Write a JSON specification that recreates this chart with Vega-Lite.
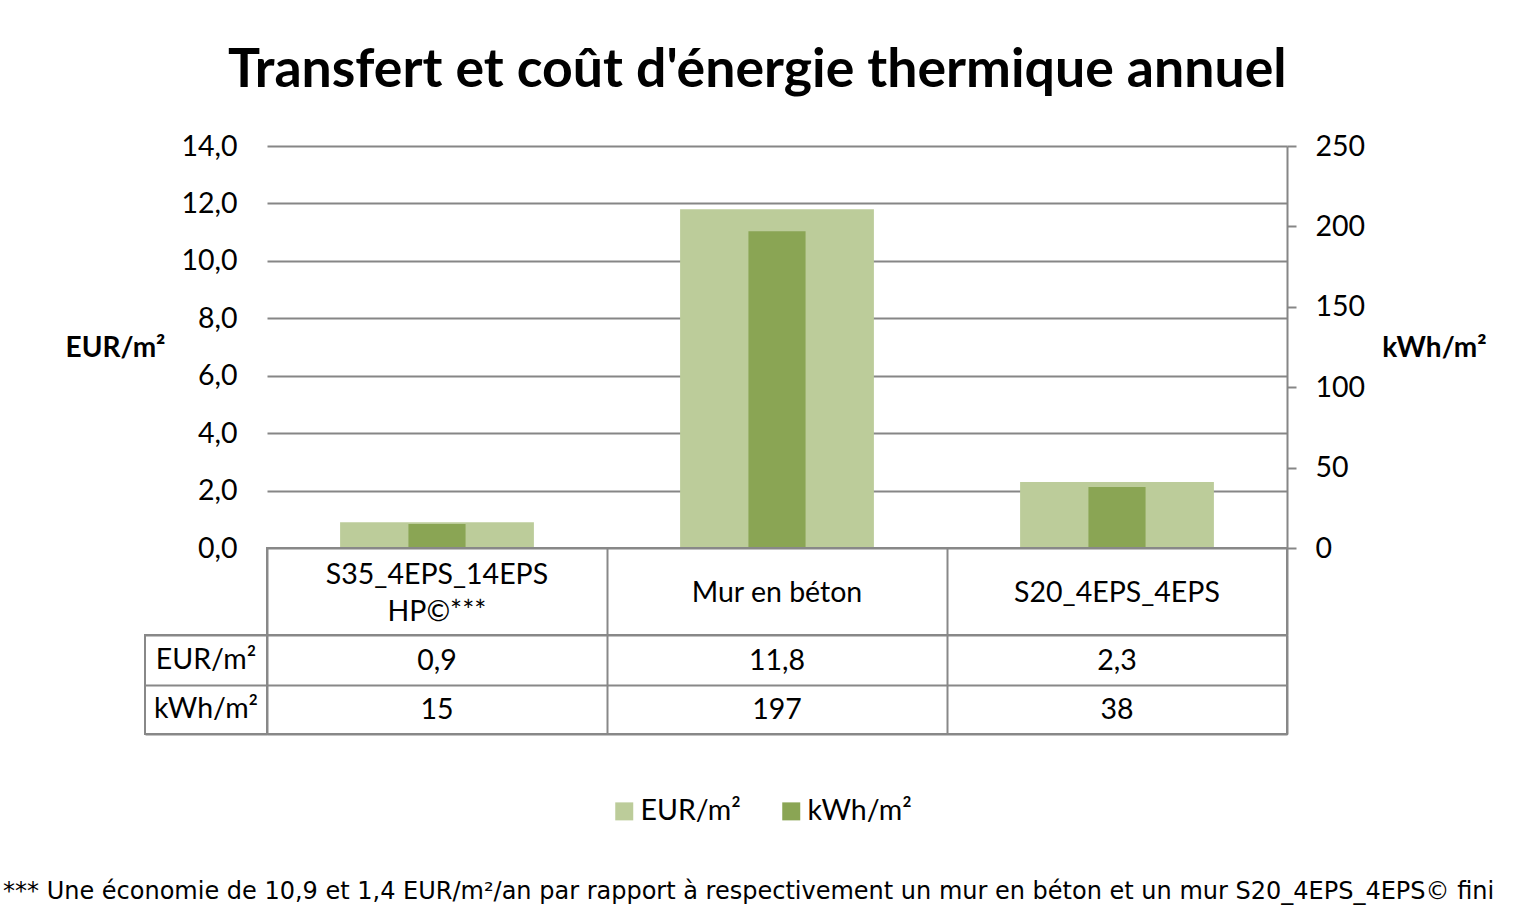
{
  "$schema": "https://vega.github.io/schema/vega-lite/v6.json",
  "autosize": {"type": "none"},
  "padding": {"left": 145, "top": 146, "right": 1371, "bottom": 768},
  "background": "white",
  "datasets": {
    "main": [
      {"cat": "S35_4EPS_14EPS\nHP©***", "eur": 0.9, "kwh": 15},
      {"cat": "Mur en béton", "eur": 11.8, "kwh": 197},
      {"cat": "S20_4EPS_4EPS", "eur": 2.3, "kwh": 38}
    ],
    "rows": [{"row": "EUR/m²"}, {"row": "kWh/m²"}]
  },
  "title": {
    "text": "Transfert et coût d'énergie thermique annuel",
    "fontSize": 53.6,
    "fontWeight": "bold",
    "font": "Lato",
    "color": "#000000",
    "anchor": "start",
    "frame": "group",
    "dx": 83,
    "offset": 33
  },
  "columns": 2,
  "spacing": 0,
  "bounds": "flush",
  "resolve": {"legend": {"color": "independent"}},
  "concat": [
    {
      "width": 122, "height": 402,
      "data": {"values": [{}]},
      "mark": {"type": "text"},
      "encoding": {},
      "view": {"stroke": null}
    },
    {
      "width": 1020, "height": 402,
      "data": {"name": "main"},
      "view": {"stroke": null},
      "layer": [
        {
          "mark": {"type": "bar", "width": {"band": 0.57}},
          "encoding": {
            "x": {"field": "cat", "type": "nominal", "sort": null, "axis": null,
                  "scale": {"paddingInner": 0, "paddingOuter": 0}},
            "y": {"field": "eur", "type": "quantitative",
                  "scale": {"domain": [0, 14], "nice": false},
                  "axis": {"orient": "left", "values": [0, 2, 4, 6, 8, 10, 12, 14], "format": ".1f",
                           "grid": true, "gridColor": "#868686", "gridWidth": 2,
                           "domain": false, "ticks": false, "tickSize": 0,
                           "labelFontSize": 28.5, "labelPadding": 30, "labelColor": "#000000",
                           "title": "EUR/m²", "titleAngle": 0, "titleFontSize": 28, "titleFontWeight": "bold",
                           "titleColor": "#000000",
                           "titleX": -152, "titleY": 202, "titleAlign": "center", "titleBaseline": "middle"}},
            "color": {"datum": "EUR/m²", "type": "nominal",
                      "scale": {"domain": ["EUR/m²", "kWh/m²"], "range": ["#bccc9a", "#8aa554"]},
                      "legend": {"orient": "none", "legendX": 343, "legendY": 651, "direction": "horizontal",
                                 "title": null, "symbolType": "square", "symbolSize": 324, "symbolStrokeWidth": 0,
                                 "labelFontSize": 28.5, "labelOffset": 2, "columnPadding": 36, "padding": 0,
                                 "labelColor": "#000000"}}
          }
        },
        {
          "mark": {"type": "bar", "width": {"band": 0.168}},
          "encoding": {
            "x": {"field": "cat", "type": "nominal", "sort": null, "axis": null,
                  "scale": {"paddingInner": 0, "paddingOuter": 0}},
            "y": {"field": "kwh", "type": "quantitative",
                  "scale": {"domain": [0, 250], "nice": false},
                  "axis": {"orient": "right", "values": [0, 50, 100, 150, 200, 250], "format": "d",
                           "grid": false, "domain": true, "domainColor": "#868686", "domainWidth": 2,
                           "ticks": true, "tickColor": "#868686", "tickWidth": 2, "tickSize": 9,
                           "labelFontSize": 28.5, "labelPadding": 19, "labelColor": "#000000",
                           "title": "kWh/m²", "titleAngle": 0, "titleFontSize": 28, "titleFontWeight": "bold",
                           "titleColor": "#000000",
                           "titleX": 147, "titleY": 202, "titleAlign": "center", "titleBaseline": "middle"}},
            "color": {"datum": "kWh/m²", "type": "nominal"}
          }
        }
      ],
      "resolve": {"scale": {"y": "independent"}}
    },
    {
      "width": 122, "height": 87,
      "data": {"values": [{}]},
      "mark": {"type": "text"},
      "encoding": {},
      "view": {"stroke": null}
    },
    {
      "width": 1020, "height": 87,
      "data": {"name": "main"},
      "view": {"stroke": "#888888", "strokeWidth": 2},
      "encoding": {
        "x": {"field": "cat", "type": "nominal", "sort": null,
              "scale": {"domain": ["S35_4EPS_14EPS\nHP©***", "Mur en béton", "S20_4EPS_4EPS"],
                        "paddingInner": 0, "paddingOuter": 0},
              "axis": {"grid": true, "tickBand": "extent", "gridColor": "#888888", "gridWidth": 2,
                       "labels": false, "ticks": false, "domain": false, "title": null}},
        "text": {"field": "cat"}
      },
      "layer": [
        {
          "transform": [{"filter": "indexof(datum.cat, '\\n') < 0"}],
          "mark": {"type": "text", "fontSize": 28.5, "color": "#000000", "dy": 1}
        },
        {
          "transform": [{"filter": "indexof(datum.cat, '\\n') >= 0"}],
          "mark": {"type": "text", "fontSize": 28.5, "lineBreak": "\n", "lineHeight": 37, "color": "#000000", "dy": -17}
        }
      ]
    },
    {
      "width": 122, "height": 99,
      "data": {"name": "rows"},
      "view": {"stroke": "#888888", "strokeWidth": 2},
      "title": {
        "text": "*** Une économie de 10,9 et 1,4 EUR/m²/an par rapport à respectivement un mur en béton et un mur S20_4EPS_4EPS© fini",
        "orient": "bottom", "anchor": "start", "frame": "group", "baseline": "alphabetic",
        "dx": -142, "offset": 165,
        "fontSize": 24, "fontWeight": "normal", "font": "DejaVu Sans", "color": "#000000"
      },
      "mark": {"type": "text", "fontSize": 28.5, "color": "#000000"},
      "encoding": {
        "y": {"field": "row", "type": "nominal", "sort": null,
              "scale": {"paddingInner": 0, "paddingOuter": 0},
              "axis": {"grid": true, "tickBand": "extent", "gridColor": "#888888", "gridWidth": 2,
                       "labels": false, "ticks": false, "domain": false, "title": null}},
        "text": {"field": "row"}
      }
    },
    {
      "width": 1020, "height": 99,
      "data": {"name": "main"},
      "view": {"stroke": "#888888", "strokeWidth": 2},
      "encoding": {
        "x": {"field": "cat", "type": "nominal", "sort": null,
              "scale": {"paddingInner": 0, "paddingOuter": 0},
              "axis": {"grid": true, "tickBand": "extent", "gridColor": "#888888", "gridWidth": 2,
                       "labels": false, "ticks": false, "domain": false, "title": null}}
      },
      "layer": [
        {
          "mark": {"type": "text", "fontSize": 28.5, "color": "#000000", "dy": 1},
          "encoding": {
            "y": {"datum": "EUR/m²", "type": "nominal",
                  "scale": {"domain": ["EUR/m²", "kWh/m²"], "paddingInner": 0, "paddingOuter": 0},
                  "axis": {"grid": true, "tickBand": "extent", "gridColor": "#888888", "gridWidth": 2,
                           "labels": false, "ticks": false, "domain": false, "title": null}},
            "text": {"field": "eur", "type": "quantitative", "format": ".1f"}
          }
        },
        {
          "mark": {"type": "text", "fontSize": 28.5, "color": "#000000", "dy": 1},
          "encoding": {
            "y": {"datum": "kWh/m²", "type": "nominal"},
            "text": {"field": "kwh", "type": "quantitative", "format": "d"}
          }
        }
      ]
    }
  ],
  "config": {
    "font": "Lato",
    "locale": {"number": {"decimal": ",", "thousands": "\u00a0", "grouping": [3], "currency": ["", " €"]}},
    "title": {"color": "#000000"}
  }
}
